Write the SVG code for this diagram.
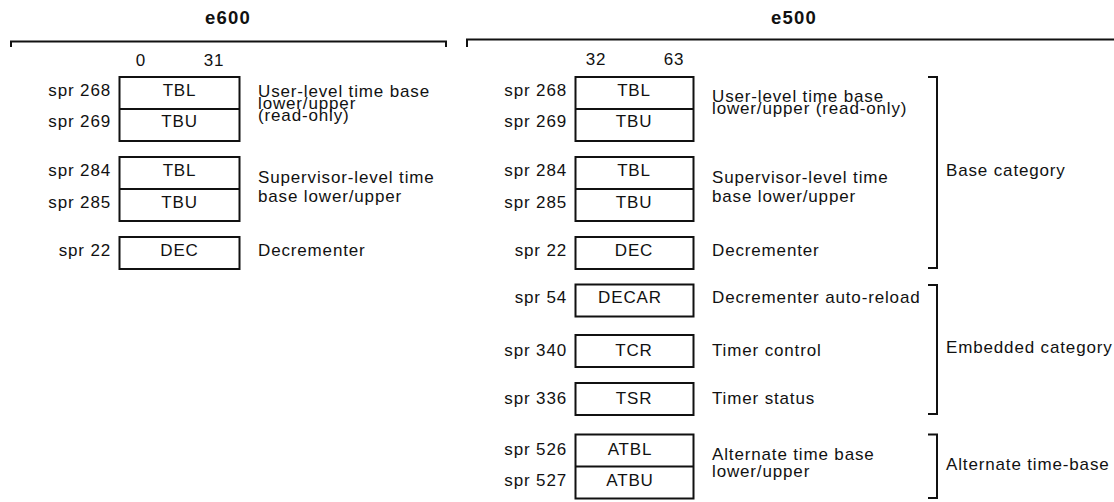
<svg xmlns="http://www.w3.org/2000/svg" width="1114" height="502" viewBox="0 0 1114 502">
<style>
  .t { font-family: "Liberation Sans", Arial, Helvetica, sans-serif; font-size: 17px; letter-spacing: 0.85px; fill: #111; }
  .h { font-family: "Liberation Sans", Arial, Helvetica, sans-serif; font-size: 18.5px; font-weight: bold; letter-spacing: 1.2px; fill: #111; text-anchor: middle; }
  .m { text-anchor: middle; }
  .e { text-anchor: end; }
  .box { fill: #fff; stroke: #111; stroke-width: 2; }
  .ln { fill: none; stroke: #111; stroke-width: 2; }
</style>
<rect width="1114" height="502" fill="#fff"/>

<!-- headers -->
<g id="hdr-e600">
  <text class="h" x="228" y="24">e600</text>
  <path class="ln" d="M11,47 V41.5 H446 V47"/>
  <text class="t m" x="141" y="65.5">0</text>
  <text class="t m" x="214" y="65.5">31</text>
</g>
<g id="hdr-e500">
  <text class="h" x="794" y="24">e500</text>
  <path class="ln" d="M467,47 V39.5 H1114"/>
  <text class="t m" x="596" y="65">32</text>
  <text class="t m" x="674" y="65">63</text>
</g>

<!-- e600 registers -->
<g id="e600-tb-user">
  <rect class="box" x="119.5" y="77" width="120" height="64"/>
  <line class="ln" x1="119.5" y1="109" x2="239.5" y2="109"/>
  <text class="t e" x="111" y="95.5">spr 268</text>
  <text class="t e" x="111" y="127">spr 269</text>
  <text class="t m" x="179.5" y="95.5">TBL</text>
  <text class="t m" x="179.5" y="126.5">TBU</text>
  <text class="t" x="258" y="96.5">User-level time base<tspan x="258" y="109">lower/upper</tspan><tspan x="258" y="121">(read-only)</tspan></text>
</g>
<g id="e600-tb-sup">
  <rect class="box" x="119.5" y="157" width="120" height="64"/>
  <line class="ln" x1="119.5" y1="189" x2="239.5" y2="189"/>
  <text class="t e" x="111" y="176">spr 284</text>
  <text class="t e" x="111" y="208">spr 285</text>
  <text class="t m" x="179.5" y="176">TBL</text>
  <text class="t m" x="179.5" y="208">TBU</text>
  <text class="t" x="258" y="183">Supervisor-level time<tspan x="258" y="201.5">base lower/upper</tspan></text>
</g>
<g id="e600-dec">
  <rect class="box" x="119.5" y="237" width="120" height="32"/>
  <text class="t e" x="111" y="256">spr 22</text>
  <text class="t m" x="179.5" y="256">DEC</text>
  <text class="t" x="258" y="256">Decrementer</text>
</g>

<!-- e500 registers -->
<g id="e500-tb-user">
  <rect class="box" x="575.5" y="77" width="118" height="64"/>
  <line class="ln" x1="575.5" y1="109" x2="693.5" y2="109"/>
  <text class="t e" x="567" y="95.5">spr 268</text>
  <text class="t e" x="567" y="127">spr 269</text>
  <text class="t m" x="634" y="95.5">TBL</text>
  <text class="t m" x="634" y="126.5">TBU</text>
  <text class="t" x="712" y="101.5">User-level time base<tspan x="712" y="114">lower/upper (read-only)</tspan></text>
</g>
<g id="e500-tb-sup">
  <rect class="box" x="575.5" y="157" width="118" height="64"/>
  <line class="ln" x1="575.5" y1="189" x2="693.5" y2="189"/>
  <text class="t e" x="567" y="176">spr 284</text>
  <text class="t e" x="567" y="208">spr 285</text>
  <text class="t m" x="634" y="176">TBL</text>
  <text class="t m" x="634" y="208">TBU</text>
  <text class="t" x="712" y="183">Supervisor-level time<tspan x="712" y="201.5">base lower/upper</tspan></text>
</g>
<g id="e500-dec">
  <rect class="box" x="575.5" y="237" width="118" height="32"/>
  <text class="t e" x="567" y="256">spr 22</text>
  <text class="t m" x="634" y="256">DEC</text>
  <text class="t" x="712" y="256">Decrementer</text>
</g>
<g id="e500-decar">
  <rect class="box" x="575.5" y="284.5" width="118" height="32"/>
  <text class="t e" x="567" y="303">spr 54</text>
  <text class="t m" x="630" y="303">DECAR</text>
  <text class="t" x="712" y="303">Decrementer auto-reload</text>
</g>
<g id="e500-tcr">
  <rect class="box" x="575.5" y="335" width="118" height="32"/>
  <text class="t e" x="567" y="356">spr 340</text>
  <text class="t m" x="634" y="356">TCR</text>
  <text class="t" x="712" y="356">Timer control</text>
</g>
<g id="e500-tsr">
  <rect class="box" x="575.5" y="383" width="118" height="32"/>
  <text class="t e" x="567" y="403.5">spr 336</text>
  <text class="t m" x="634" y="403.5">TSR</text>
  <text class="t" x="712" y="403.5">Timer status</text>
</g>
<g id="e500-atb">
  <rect class="box" x="575.5" y="434.5" width="118" height="64"/>
  <line class="ln" x1="575.5" y1="466.5" x2="693.5" y2="466.5"/>
  <text class="t e" x="567" y="454.5">spr 526</text>
  <text class="t e" x="567" y="486">spr 527</text>
  <text class="t m" x="630" y="454.5">ATBL</text>
  <text class="t m" x="630" y="486">ATBU</text>
  <text class="t" x="712" y="459.5">Alternate time base<tspan x="712" y="476.5">lower/upper</tspan></text>
</g>

<!-- category brackets -->
<g id="brackets">
  <path class="ln" d="M928,77 H937 V268 H928"/>
  <path class="ln" d="M928,285 H937 V414 H928"/>
  <path class="ln" d="M928,434.5 H937 V498 H928"/>
</g>
<g id="categories">
  <text class="t" x="946" y="176">Base category</text>
  <text class="t" x="946" y="353">Embedded category</text>
  <text class="t" x="946" y="470">Alternate time-base</text>
</g>
</svg>
